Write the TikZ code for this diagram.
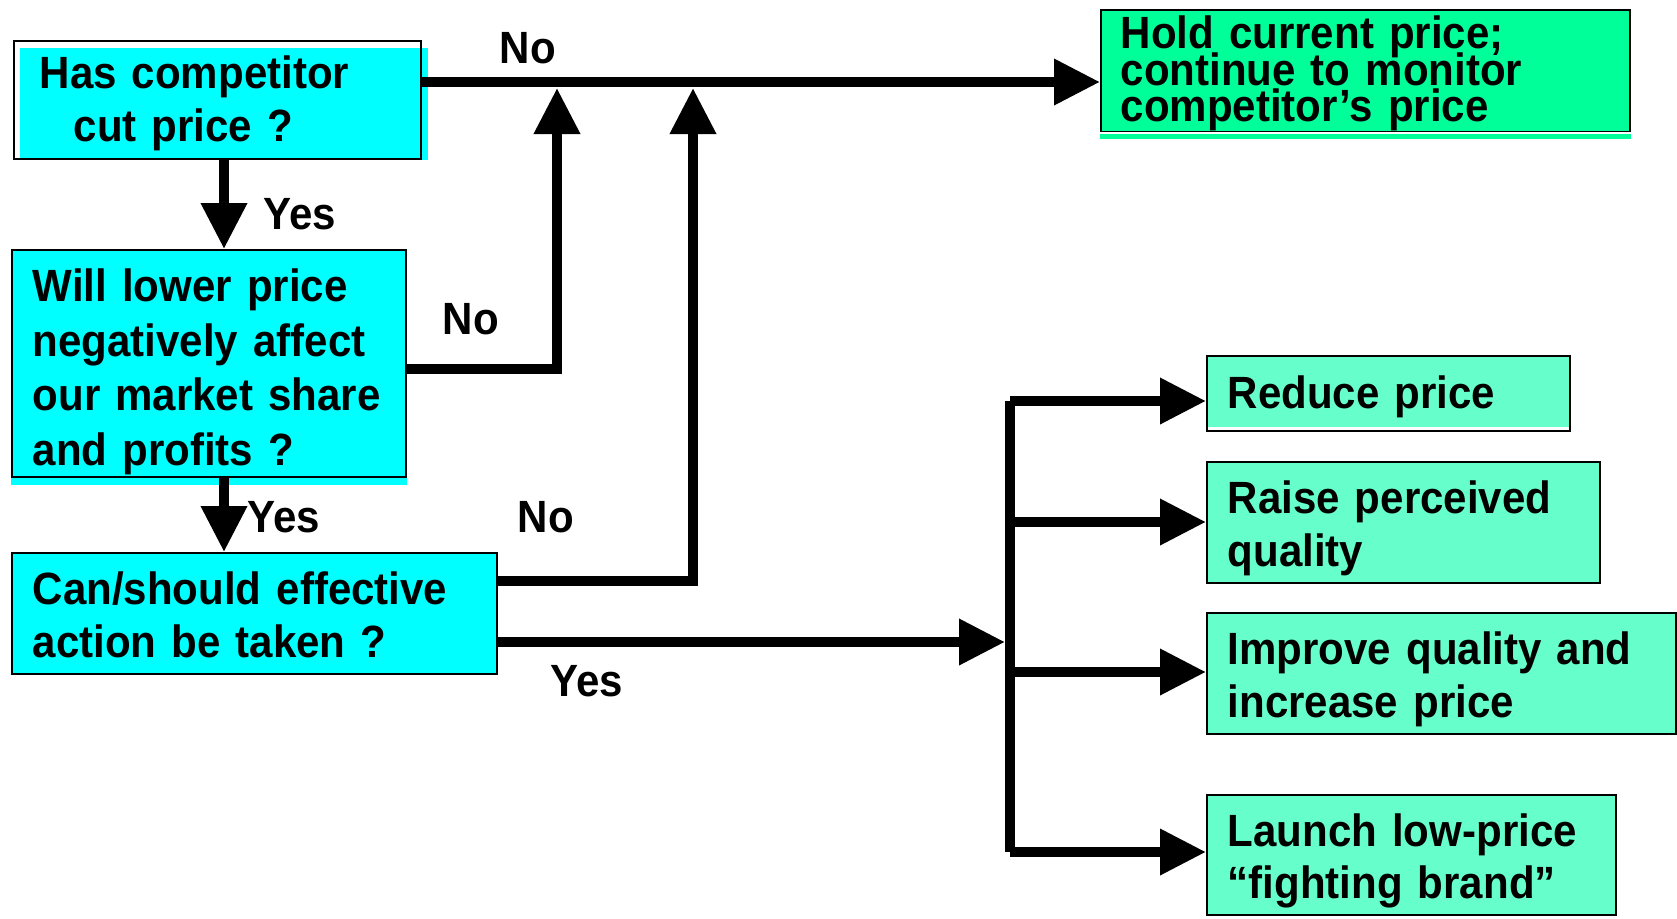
\documentclass[tikz,border=0pt]{standalone}
\usepackage{fontspec}
\setmainfont{Liberation Sans}[FakeStretch=0.93]
\usetikzlibrary{arrows.meta,backgrounds}
\definecolor{qcyan}{RGB}{0,255,255}
\definecolor{holdgreen}{RGB}{0,255,153}
\definecolor{actgreen}{RGB}{102,255,204}
\newcommand\lift[1]{\rule{0pt}{#1}}
\setlength{\lineskiplimit}{-100pt}
\begin{document}
\begin{tikzpicture}[x=0.5pt,y=-0.5pt,
  box/.style={draw=black, line width=0.75pt, anchor=north west, align=left,
    inner ysep=0pt, font=\bfseries\fontsize{22.6pt}{26.2pt}\selectfont},
  lbl/.style={font=\bfseries\fontsize{22.6pt}{25pt}\selectfont, inner sep=0pt},
  arr/.style={line width=5pt, -{Triangle[length=23pt,width=22pt]}},
  bar/.style={line width=5pt}]
\useasboundingbox (0,0) rectangle (1677,918);

% question boxes
\node[box, inner xsep=13pt, text width=177.5pt, minimum height=59pt] (b1) at (13,40)
  {\lift{19.8pt}Has competitor\\\hspace*{17pt}cut price ?};
\node[box, inner xsep=10.5pt, text width=176pt, minimum height=113.5pt,
  font=\bfseries\fontsize{22.6pt}{27.3pt}\selectfont] (b2) at (11,249)
  {\lift{25pt}Will lower price\\negatively affect\\our market share\\and profits ?};
\node[box, fill=qcyan, inner xsep=10.5pt, text width=221.5pt, minimum height=60.5pt] (b3) at (11,552)
  {\lift{17.8pt}Can/should effective\\action be taken ?};

% outcome boxes
\node[box, fill=holdgreen, inner xsep=10pt, text width=244.5pt, minimum height=59.5pt,
  font=\bfseries\fontsize{22.6pt}{18.2pt}\selectfont] (hold) at (1100,9)
  {\lift{19.5pt}Hold current price;\\[-3.7pt]continue to monitor\\competitor’s price};
\node[box, inner xsep=10.5pt, text width=160.5pt, minimum height=37.5pt] (r1) at (1206,355)
  {\lift{19.8pt}Reduce price};
\node[box, fill=actgreen, inner xsep=10.5pt, text width=175.5pt, minimum height=60.5pt] (r2) at (1206,461)
  {\lift{22.5pt}Raise perceived\\quality};
\node[box, fill=actgreen, inner xsep=10.5pt, text width=213.5pt, minimum height=60.5pt] (r3) at (1206,612)
  {\lift{22.5pt}Improve quality and\\increase price};
\node[box, fill=actgreen, inner xsep=10.5pt, text width=183.5pt, minimum height=60pt] (r4) at (1206,794)
  {\lift{22.5pt}Launch low-price\\“fighting brand”};

% offset fills (as in the reference)
\begin{pgfonlayer}{background}
  \fill[qcyan] ([xshift=3.25pt,yshift=-3.75pt]b1.north west) rectangle ([xshift=3pt]b1.south east);
  \fill[qcyan] (b2.north west) rectangle ([yshift=-3.5pt]b2.south east);
  \fill[holdgreen] ([yshift=-1pt]hold.south west) rectangle ([yshift=-3.5pt]hold.south east);
  \fill[actgreen] (r1.north west) rectangle ([yshift=2.5pt]r1.south east);
\end{pgfonlayer}

% helper coordinates
\coordinate (ytop) at (0,82);
\coordinate (vx) at (224,0);
\coordinate (j1) at (557,88);
\coordinate (j2) at (693,88);
\coordinate (y2) at (0,369);
\coordinate (y3) at (0,581);
\coordinate (barin) at (1005,642);
\coordinate (bartop) at (1010,401);
\coordinate (br2) at (1010,522);
\coordinate (br3) at (1010,672);
\coordinate (barbot) at (1010,852);

% connectors
\draw[arr] (b1.east |- ytop) -- (hold.west |- ytop);
\draw[arr] (b1.south -| vx) -- (b2.north -| vx);
\draw[arr] (b2.south -| vx) -- (b3.north -| vx);
\draw[arr] (b2.east |- y2) -| (j1);
\draw[arr] (b3.east |- y3) -| (j2);
\draw[arr] (b3.east |- barin) -- (barin);
\draw[bar] (bartop) -- (barbot);
\draw[arr] (bartop) -- (r1.west |- bartop);
\draw[arr] (br2) -- (r2.west |- br2);
\draw[arr] (br3) -- (r3.west |- br3);
\draw[arr] (barbot) -- (r4.west |- barbot);

% labels
\node[lbl] (lno1) at (528,48) {No};
\node[lbl] (lyes1) at (300,214) {Yes};
\node[lbl] (lno2) at (471,319) {No};
\node[lbl] (lyes2) at (284,517) {Yes};
\node[lbl] (lno3) at (546,517) {No};
\node[lbl] (lyes3) at (587,681) {Yes};
\end{tikzpicture}
\end{document}
